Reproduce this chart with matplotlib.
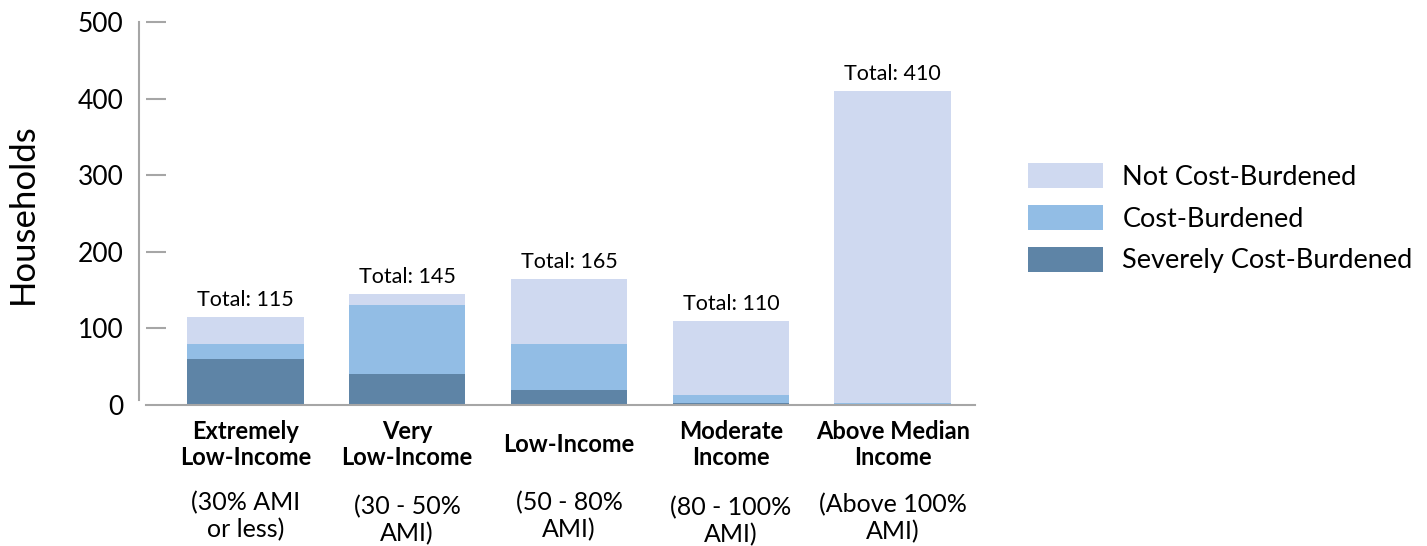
import matplotlib
matplotlib.use("Agg")
from matplotlib import pyplot as plt
from matplotlib.patches import Patch
import numpy as np

plt.rcParams['font.family'] = ['Lato', 'DejaVu Sans']

categories = ['Extremely\nLow-Income', 'Very\nLow-Income', 'Low-Income',
              'Moderate\nIncome', 'Above Median\nIncome']
ami_labels = ['(30% AMI\nor less)', '(30 - 50%\nAMI)', '(50 - 80%\nAMI)',
              '(80 - 100%\nAMI)', '(Above 100%\nAMI)']
severe = [60, 40, 20, 3, 0]
burdened = [20, 90, 60, 10, 3]
not_burdened = [35, 15, 85, 97, 407]
totals = [115, 145, 165, 110, 410]

series_names = ['Not Cost-Burdened', 'Cost-Burdened', 'Severely Cost-Burdened']
colors = ['#cfd9f0', '#92bde5', '#5e84a6']

# vertical placement of the AMI lines (axes fraction), a few sit lower
ami_y = [-0.291, -0.301, -0.291, -0.304, -0.295]

fig = plt.figure(figsize=(14.27, 5.46), dpi=100)
ax = fig.add_axes([0.1023, 0.2582, 0.581, 0.7015])

x = np.arange(len(categories))
w = 0.72
ax.bar(x, severe, w, color=colors[2])
ax.bar(x, burdened, w, bottom=severe, color=colors[1])
ax.bar(x, not_burdened, w, bottom=np.array(severe) + np.array(burdened), color=colors[0])

for xi, t in zip(x, totals):
    ax.annotate('Total: %d' % t, (xi, t), xytext=(0, 5), textcoords='offset points',
                ha='center', va='bottom', fontsize=15.5)

ax.set_xlim(-0.614, 4.509)
ax.set_ylim(0, 500)

# spines
for s in ['top', 'right']:
    ax.spines[s].set_visible(False)
ax.spines['left'].set_position(('outward', 5))
ax.spines['left'].set_bounds(7, 500)
ax.spines['left'].set_color('#a6a6a6')
ax.spines['left'].set_linewidth(1.5)
ax.spines['bottom'].set_color('#a6a6a6')
ax.spines['bottom'].set_linewidth(1.5)

yt = [0, 100, 200, 300, 400, 500]
ax.set_yticks(yt)
ax.set_yticklabels([str(v) for v in yt], fontsize=19)
ax.tick_params(axis='y', length=0, pad=11)
ax.hlines(yt[1:], 0, 0.024, transform=ax.get_yaxis_transform(),
          color='#a6a6a6', lw=1.5, clip_on=False)

ax.set_xticks(x)
ax.set_xticklabels([])
ax.tick_params(axis='x', length=0)

for xi, c, a, yy in zip(x, categories, ami_labels, ami_y):
    ax.text(xi, -0.102, c, transform=ax.get_xaxis_transform(), ha='center', va='center',
            fontsize=17, fontweight='bold', linespacing=1.15)
    ax.text(xi, yy, a, transform=ax.get_xaxis_transform(), ha='center', va='center',
            fontsize=18, linespacing=1.2)

ax.set_ylabel('Households', fontsize=25, labelpad=28)

handles = [Patch(facecolor=c, edgecolor='none') for c in colors]
fig.legend(handles, series_names, loc='center left', bbox_to_anchor=(0.703, 0.6),
           frameon=False, fontsize=19.5, handlelength=2.8, handleheight=1.05,
           labelspacing=0.55, handletextpad=0.7)

fig.savefig('out.png', dpi=100)
